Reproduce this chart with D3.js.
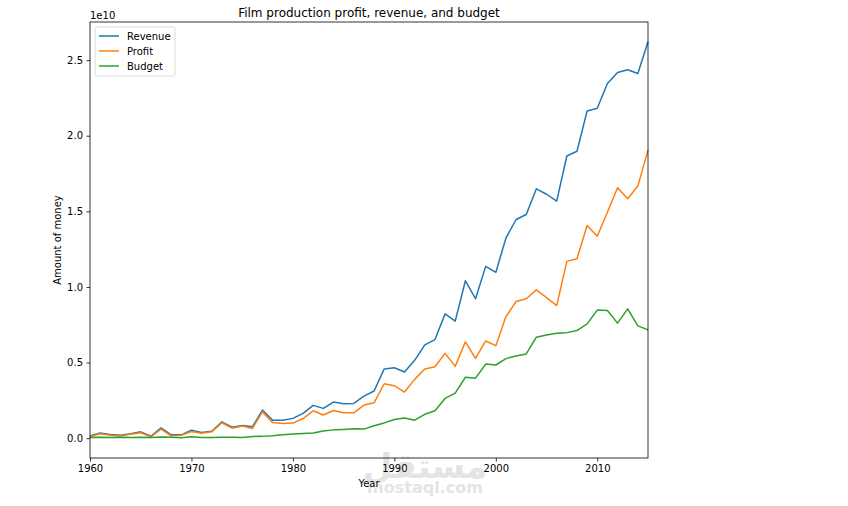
<!DOCTYPE html>
<html>
<head>
<meta charset="utf-8">
<script src="https://cdn.jsdelivr.net/npm/d3@7"></script>
<style>
  body { margin: 0; background: #fff; }
  text { font-family: "DejaVu Sans", sans-serif; }
</style>
</head>
<body>
<div id="canvas"></div>
<script>
const years = d3.range(1960, 2016);

// values in units of 1e10
const revenue = [0.015, 0.035, 0.025, 0.02, 0.03, 0.042, 0.013, 0.068, 0.022, 0.022,
  0.053, 0.038, 0.046, 0.108, 0.073, 0.084, 0.075, 0.186, 0.119, 0.119,
  0.131, 0.164, 0.217, 0.197, 0.239, 0.228, 0.23, 0.278, 0.312, 0.458,
  0.466, 0.438, 0.515, 0.617, 0.652, 0.822, 0.774, 1.041, 0.922, 1.136,
  1.096, 1.324, 1.446, 1.479, 1.649, 1.613, 1.567, 1.866, 1.897, 2.164,
  2.182, 2.345, 2.418, 2.436, 2.412, 2.621];

const profit = [0.01, 0.029, 0.02, 0.014, 0.026, 0.036, 0.009, 0.06, 0.016, 0.019,
  0.044, 0.033, 0.042, 0.102, 0.066, 0.08, 0.064, 0.174, 0.103, 0.097,
  0.10, 0.13, 0.181, 0.153, 0.183, 0.168, 0.168, 0.219, 0.234, 0.36,
  0.347, 0.305, 0.389, 0.457, 0.472, 0.561, 0.475, 0.637, 0.528, 0.643,
  0.612, 0.804, 0.904, 0.922, 0.981, 0.93, 0.877, 1.169, 1.187, 1.406,
  1.335, 1.494, 1.656, 1.583, 1.667, 1.905];

const budget = [0.005, 0.006, 0.005, 0.006, 0.004, 0.006, 0.004, 0.008, 0.006, 0.003,
  0.009, 0.005, 0.004, 0.006, 0.007, 0.004, 0.011, 0.012, 0.016, 0.022,
  0.027, 0.031, 0.035, 0.048, 0.055, 0.058, 0.062, 0.06, 0.082, 0.101,
  0.124, 0.133, 0.119, 0.158, 0.181, 0.263, 0.298, 0.403, 0.397, 0.49,
  0.484, 0.526, 0.544, 0.557, 0.668, 0.683, 0.694, 0.698, 0.712, 0.756,
  0.847, 0.844, 0.761, 0.855, 0.743, 0.716];

const series = [
  { name: "Revenue", values: revenue, color: "#1f77b4" },
  { name: "Profit", values: profit, color: "#ff7f0e" },
  { name: "Budget", values: budget, color: "#2ca02c" }
];

const xTicks = [1960, 1970, 1980, 1990, 2000, 2010];
const yTicks = [0, 0.5, 1.0, 1.5, 2.0, 2.5];

const margin = { top: 22, right: 200, bottom: 48, left: 90 },
    width = 848 - margin.left - margin.right,
    height = 506 - margin.top - margin.bottom;

const root = d3.select("#canvas")
    .append("svg")
    .attr("width", 848)
    .attr("height", 506);

// watermark
const wm = root.append("g").attr("fill", "#e4e4e4").attr("text-anchor", "middle");
wm.append("text").attr("x", 425).attr("y", 478)
    .style("font-size", "34px").style("font-weight", "bold").text("مستقل");
wm.append("text").attr("x", 425).attr("y", 493)
    .style("font-size", "16px").style("font-weight", "bold").text("mostaql.com");

const svg = root.append("g")
    .attr("transform", `translate(${margin.left},${margin.top})`);

const x = d3.scaleLinear().domain([1960, 2015]).range([0, width]);
const y = d3.scaleLinear().domain([-0.131, 2.752]).range([height, 0]);

// axes
const xAxis = svg.append("g")
    .attr("transform", `translate(0,${height})`)
    .call(d3.axisBottom(x).tickValues(xTicks).tickFormat(d3.format("d")).tickSizeOuter(0).tickSize(3.5).tickPadding(3.5));

const yAxis = svg.append("g")
    .call(d3.axisLeft(y).tickValues(yTicks).tickFormat(d3.format(".1f")).tickSizeOuter(0).tickSize(3.5).tickPadding(3.5));

[xAxis, yAxis].forEach(a => {
  a.select(".domain").remove();
  a.selectAll("line").attr("stroke", "#000").attr("stroke-width", 0.8);
  a.selectAll("text").style("font-size", "10px").attr("fill", "#000")
      .style("font-family", "DejaVu Sans, sans-serif");
});

// lines
const line = d3.line()
    .x((d, i) => x(years[i]))
    .y(d => y(d));

svg.append("g")
    .selectAll("path")
    .data(series)
    .join("path")
    .attr("fill", "none")
    .attr("stroke", d => d.color)
    .attr("stroke-width", 1.5)
    .attr("stroke-linejoin", "round")
    .attr("d", d => line(d.values));

// frame
svg.append("rect")
    .attr("width", width)
    .attr("height", height)
    .attr("fill", "none")
    .attr("stroke", "#000")
    .attr("stroke-width", 0.8);

// legend
const legend = svg.append("g").attr("transform", "translate(5,5)");
legend.append("rect")
    .attr("width", 80)
    .attr("height", 49)
    .attr("rx", 2)
    .attr("fill", "#fff")
    .attr("fill-opacity", 0.8)
    .attr("stroke", "#d0d0d0")
    .attr("stroke-width", 0.8);

legend.selectAll("g.item")
    .data(series)
    .join("g")
    .attr("class", "item")
    .attr("transform", (d, i) => `translate(0,${9 + i * 15})`)
    .call(g => {
      g.append("line")
          .attr("x1", 4).attr("x2", 24)
          .attr("stroke", d => d.color)
          .attr("stroke-width", 1.5);
      g.append("text")
          .attr("x", 32)
          .attr("dy", "0.35em")
          .style("font-size", "10px")
          .text(d => d.name);
    });

// labels
root.append("text")
    .attr("x", margin.left + width / 2)
    .attr("y", 17)
    .attr("text-anchor", "middle")
    .style("font-size", "12px")
    .text("Film production profit, revenue, and budget");

root.append("text")
    .attr("x", margin.left)
    .attr("y", 19)
    .style("font-size", "10px")
    .text("1e10");

root.append("text")
    .attr("x", margin.left + width / 2)
    .attr("y", 487)
    .attr("text-anchor", "middle")
    .style("font-size", "10px")
    .text("Year");

root.append("text")
    .attr("transform", `translate(61,${margin.top + height / 2}) rotate(-90)`)
    .attr("text-anchor", "middle")
    .style("font-size", "10px")
    .text("Amount of money");
</script>
</body>
</html>
